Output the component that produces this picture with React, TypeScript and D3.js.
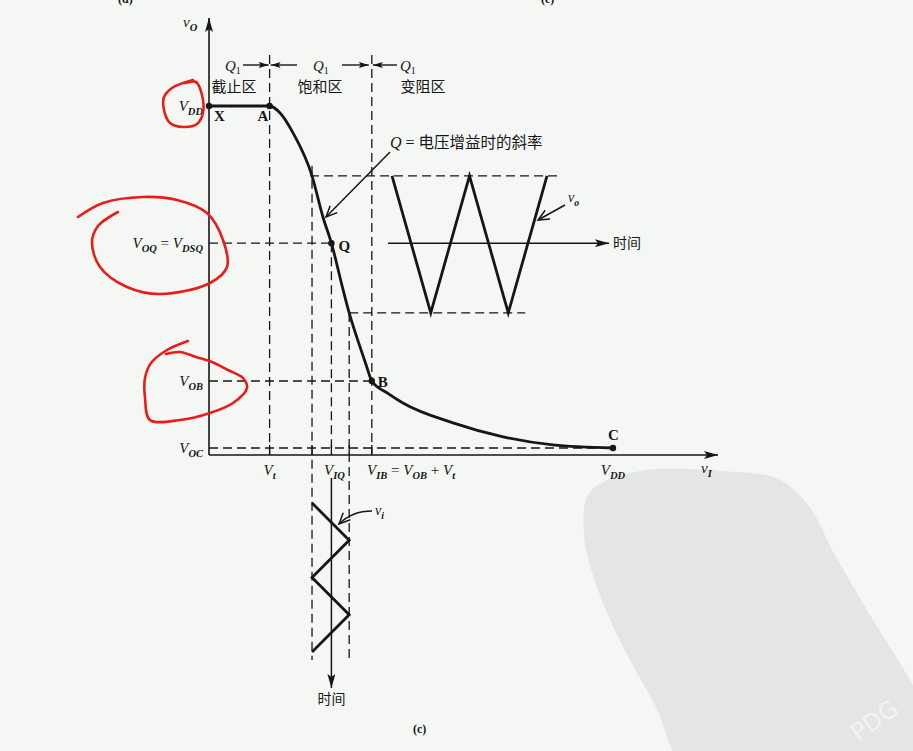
import * as d3 from 'd3';

// ---- data (volts, schematic) ----
const VDD = 10;
const transferVin = [0, 1.5, 1.76, 2.08, 2.55, 2.82, 3.03, 3.32, 3.47, 3.74, 3.89, 4.03, 4.41, 4.8, 6.04, 7.28, 8.51, 10];
const transferVout = [10, 10, 9.8, 9.23, 8.0, 6.82, 6.07, 4.73, 4.07, 3.09, 2.58, 2.12, 1.78, 1.49, 0.92, 0.52, 0.29, 0.2];

const Vt = 1.5;
const VIlo = 2.55;
const VIQ = 3.03;
const VIhi = 3.47;
const VIB = 4.03;

const VoHi = 8.0;
const VOQ = 6.07;
const VoLo = 4.07;
const VOB = 2.12;
const VOC = 0.2;

const waveTime = [0, 1, 2, 3, 4];
const inputWave = [VIlo, VIhi, VIlo, VIhi, VIlo];
const outputWave = [VoHi, VoLo, VoHi, VoLo, VoHi];

const regionNames = ['截止区', '饱和区', '变阻区'];
const pointNames = ['X', 'A', 'Q', 'B', 'C'];
const pointVin = [0, Vt, VIQ, VIB, VDD];
const pointVout = [VDD, VDD, VOQ, VOB, VOC];

const SERIF = '"Liberation Serif", "DejaVu Serif", serif';
const CJK = '"Noto Sans CJK SC", "Noto Sans", sans-serif';
const INK = '#161616';
const RED = '#ea1c17';

type Part = [string, string?, boolean?];

function Sym({ x, y, parts, anchor = 'start', size = 15 }:
  { x: number; y: number; parts: Part[]; anchor?: string; size?: number }) {
  let prevSub = false;
  const out: any[] = [];
  parts.forEach((p, i) => {
    const [main, sub, upright] = p;
    out.push(
      <tspan key={'m' + i} dy={prevSub ? -4 : 0} fontStyle={upright ? 'normal' : 'italic'}>{main}</tspan>
    );
    prevSub = false;
    if (sub) {
      out.push(
        <tspan key={'s' + i} dy={4} fontSize={size * 0.7} fontStyle="italic" fontWeight="bold">{sub}</tspan>
      );
      prevSub = true;
    }
  });
  return (
    <text x={x} y={y} textAnchor={anchor} fontFamily={SERIF} fontSize={size} fill={INK} style={{ whiteSpace: 'pre' }}>
      {out}
    </text>
  );
}

export default function App() {
  const W = 913, H = 751;
  const x = d3.scaleLinear().domain([0, VDD]).range([209, 613]);
  const y = d3.scaleLinear().domain([0, VDD]).range([455, 106]);
  const tIn = d3.scaleLinear().domain([0, 4]).range([503, 652]);
  const tOut = d3.scaleLinear().domain([0, 4]).range([392, 547]);

  const transfer = d3.line<number>()
    .x((d) => x(transferVin[d]))
    .y((d) => y(transferVout[d]))
    .curve(d3.curveMonotoneX)(transferVin.map((_, i) => i)) as string;

  const inPath = d3.line<number>()
    .x((d) => x(inputWave[d]))
    .y((d) => tIn(waveTime[d]))(waveTime.map((_, i) => i)) as string;

  const outPath = d3.line<number>()
    .x((d) => tOut(waveTime[d]))
    .y((d) => y(outputWave[d]))(waveTime.map((_, i) => i)) as string;

  const blob = d3.line().curve(d3.curveCatmullRom);
  const blobClosed = d3.line().curve(d3.curveCatmullRomClosed);

  const x0 = x(0), y0 = y(0);
  const dash = '9 5';
  const topArrowY = 65;

  // red hand-drawn annotation loops
  const redVDD: [number, number][] = [[185, 83], [196, 82], [202, 95], [203, 113], [197, 124], [183, 127], [170, 123], [164, 110], [164, 97], [172, 88], [183, 83], [193, 80]];
  const redVOQ: [number, number][] = [[78, 217], [103, 203], [143, 197], [177, 200], [207, 213], [223, 240], [227, 267], [210, 283], [160, 294], [127, 287], [100, 267], [92, 242], [98, 226], [118, 212]];
  const redVOB: [number, number][] = [[188, 341], [167, 350], [151, 363], [145, 378], [145, 398], [150, 420], [180, 420], [210, 413], [233, 403], [247, 388], [243, 378], [228, 370], [212, 362], [196, 357], [180, 352], [166, 354]];
  const watermark: [number, number][] = [[590, 492], [640, 471], [720, 471], [778, 479], [808, 505], [835, 555], [870, 615], [910, 680], [935, 730], [930, 770], [690, 770], [655, 705], [622, 645], [598, 590], [584, 535]];

  const regionBounds = [x0, x(Vt), x(VIB)];
  const regionCenters = [234, 320, 423];

  return (
    <svg width={W} height={H} style={{ position: 'absolute', left: 0, top: 0, display: 'block' }}>
      <defs>
        <marker id="axisHead" viewBox="0 0 14 8" refX={14} refY={4} markerWidth={14} markerHeight={8}
          markerUnits="userSpaceOnUse" orient="auto">
          <path d="M0,0L14,4L0,8L3,4z" fill={INK} />
        </marker>
        <marker id="smallHead" viewBox="0 0 10 6" refX={10} refY={3} markerWidth={10} markerHeight={6}
          markerUnits="userSpaceOnUse" orient="auto">
          <path d="M0,0L10,3L0,6L2,3z" fill={INK} />
        </marker>
        <marker id="openHead" viewBox="0 0 12 10" refX={11} refY={5} markerWidth={12} markerHeight={10}
          markerUnits="userSpaceOnUse" orient="auto" style={{ overflow: 'visible' }}>
          <path d="M0,0L11,5L0,10" fill="none" stroke={INK} strokeWidth={1.5} />
        </marker>
      </defs>

      <rect x={0} y={0} width={W} height={H} fill="#f5f7f5" />
      <path d={blobClosed(watermark) as string} fill="#e5e5e5" />
      <text x={858} y={742} fontFamily={'"DejaVu Sans", sans-serif'} fontSize={24} fill="#f3f3f3"
        transform="rotate(-35 858 742)">PDG</text>

      {/* cut-off captions at top */}
      <text x={118} y={3} fontFamily={SERIF} fontSize={12} fontWeight="bold" fill={INK}>(d)</text>
      <text x={541} y={3} fontFamily={SERIF} fontSize={12} fontWeight="bold" fill={INK}>(e)</text>

      {/* dashed guides */}
      <g stroke={INK} strokeWidth={1.3} strokeDasharray={dash} fill="none">
        <line x1={x(Vt)} y1={55} x2={x(Vt)} y2={y0} />
        <line x1={x(VIB)} y1={55} x2={x(VIB)} y2={y0} />
        <line x1={x(VIlo)} y1={y(VoHi) - 10} x2={x(VIlo)} y2={660} />
        <line x1={x(VIhi)} y1={y(VoLo)} x2={x(VIhi)} y2={660} />
        <line x1={x(VIQ)} y1={y(VOQ)} x2={x(VIQ)} y2={y0} />
        <line x1={x(VIlo) - 2} y1={y(VoHi)} x2={tOut(4) + 15} y2={y(VoHi)} />
        <line x1={x(VIhi)} y1={y(VoLo)} x2={tOut(3) + 17} y2={y(VoLo)} />
        <line x1={x0} y1={y(VOQ)} x2={x(VIQ)} y2={y(VOQ)} />
        <line x1={x0} y1={y(VOB)} x2={x(VIB)} y2={y(VOB)} />
        <line x1={x0} y1={y(VOC)} x2={x(VDD)} y2={y(VOC)} />
      </g>
      <g stroke={INK} strokeWidth={1.3}>
        {[Vt, VIlo, VIQ, VIhi, VIB].map((v, i) => (
          <line key={i} x1={x(v)} y1={y(VOC) - 3} x2={x(v)} y2={y0} />
        ))}
      </g>

      {/* axes */}
      <line x1={x0} y1={y0} x2={x0} y2={18} stroke={INK} strokeWidth={1.6} markerEnd="url(#axisHead)" />
      <line x1={x0} y1={y0} x2={718} y2={y0} stroke={INK} strokeWidth={1.6} markerEnd="url(#axisHead)" />
      <Sym x={183} y={27} parts={[['v', 'O']]} size={15} />
      <Sym x={701} y={473} parts={[['v', 'I']]} size={15} />

      {/* region arrows */}
      <g stroke={INK} strokeWidth={1.4}>
        <line x1={243} y1={topArrowY} x2={regionBounds[1] - 1} y2={topArrowY} markerEnd="url(#smallHead)" />
        <line x1={297} y1={topArrowY} x2={regionBounds[1] + 1} y2={topArrowY} markerEnd="url(#smallHead)" />
        <line x1={342} y1={topArrowY} x2={regionBounds[2] - 3} y2={topArrowY} markerEnd="url(#smallHead)" />
        <line x1={397} y1={topArrowY} x2={regionBounds[2] + 1} y2={topArrowY} markerEnd="url(#smallHead)" />
      </g>
      {[225, 313, 400].map((qx, i) => (
        <text key={i} x={qx} y={71} fontFamily={SERIF} fontSize={15} fill={INK}>
          <tspan fontStyle="italic">Q</tspan><tspan fontSize={10} dy={3}>1</tspan>
        </text>
      ))}
      {regionNames.map((r, i) => (
        <text key={r} x={regionCenters[i]} y={92} textAnchor="middle" fontFamily={CJK} fontSize={15} fill={INK}>{r}</text>
      ))}

      {/* transfer characteristic */}
      <path d={transfer} fill="none" stroke={INK} strokeWidth={2.8} strokeLinejoin="round" />
      {pointNames.map((n, i) => (
        <circle key={n} cx={x(pointVin[i])} cy={y(pointVout[i])} r={3.2} fill={INK} />
      ))}
      {pointNames.map((n, i) => {
        const off: Record<string, [number, number]> = { X: [5, 15], A: [-12, 15], Q: [7, 8], B: [6, 6], C: [-5, -8] };
        return (
          <text key={'t' + n} x={x(pointVin[i]) + off[n][0]} y={y(pointVout[i]) + off[n][1]}
            fontFamily={SERIF} fontSize={15} fontWeight="bold" fill={INK}>{n}</text>
        );
      })}

      {/* output waveform */}
      <line x1={tOut(0) - 4} y1={y(VOQ)} x2={609} y2={y(VOQ)} stroke={INK} strokeWidth={1.5} markerEnd="url(#axisHead)" />
      <text x={613} y={y(VOQ) + 5} fontFamily={CJK} fontSize={14} fill={INK}>时间</text>
      <path d={outPath} fill="none" stroke={INK} strokeWidth={2.8} strokeLinejoin="miter" />
      <line x1={565} y1={205} x2={538} y2={220} stroke={INK} strokeWidth={1.5} markerEnd="url(#openHead)" />
      <Sym x={568} y={202} parts={[['v', 'o']]} size={14} />

      {/* input waveform */}
      <line x1={x(VIQ)} y1={478} x2={x(VIQ)} y2={688} stroke={INK} strokeWidth={1.5} markerEnd="url(#axisHead)" />
      <text x={x(VIQ)} y={704} textAnchor="middle" fontFamily={CJK} fontSize={14} fill={INK}>时间</text>
      <path d={inPath} fill="none" stroke={INK} strokeWidth={2.8} strokeLinejoin="miter" />
      <path d="M372,511 Q352,511 339,524" fill="none" stroke={INK} strokeWidth={1.5} markerEnd="url(#openHead)" />
      <Sym x={375} y={515} parts={[['v', 'i']]} size={14} />

      {/* Q leader */}
      <line x1={390} y1={152} x2={326} y2={217} stroke={INK} strokeWidth={1.5} markerEnd="url(#openHead)" />
      <text x={390} y={148} fontFamily={SERIF} fontSize={16} fill={INK}>
        <tspan fontStyle="italic">Q</tspan><tspan> = </tspan>
        <tspan fontFamily={CJK} fontSize={15.5}>电压增益时的斜率</tspan>
      </text>

      {/* y labels */}
      <Sym x={203} y={111} anchor="end" parts={[['V', 'DD']]} />
      <Sym x={203} y={248} anchor="end" parts={[['V', 'OQ'], [' = ', undefined, true], ['V', 'DSQ']]} />
      <Sym x={203} y={386} anchor="end" parts={[['V', 'OB']]} />
      <Sym x={203} y={453} anchor="end" parts={[['V', 'OC']]} />

      {/* x labels */}
      <Sym x={x(Vt)} y={475} anchor="middle" parts={[['V', 't']]} />
      <Sym x={x(VIQ) + 3} y={475} anchor="middle" parts={[['V', 'IQ']]} />
      <Sym x={367} y={475} parts={[['V', 'IB'], [' = ', undefined, true], ['V', 'OB'], [' + ', undefined, true], ['V', 't']]} />
      <Sym x={x(VDD)} y={475} anchor="middle" parts={[['V', 'DD']]} />

      {/* red hand annotations */}
      <g fill="none" stroke={RED} strokeWidth={2.6} strokeLinecap="round" strokeLinejoin="round">
        <path d={blob(redVDD) as string} />
        <path d={blob(redVOQ) as string} />
        <path d={blob(redVOB) as string} />
      </g>

      <text x={413} y={733} fontFamily={SERIF} fontSize={12} fontWeight="bold" fill={INK}>(c)</text>
    </svg>
  );
}
